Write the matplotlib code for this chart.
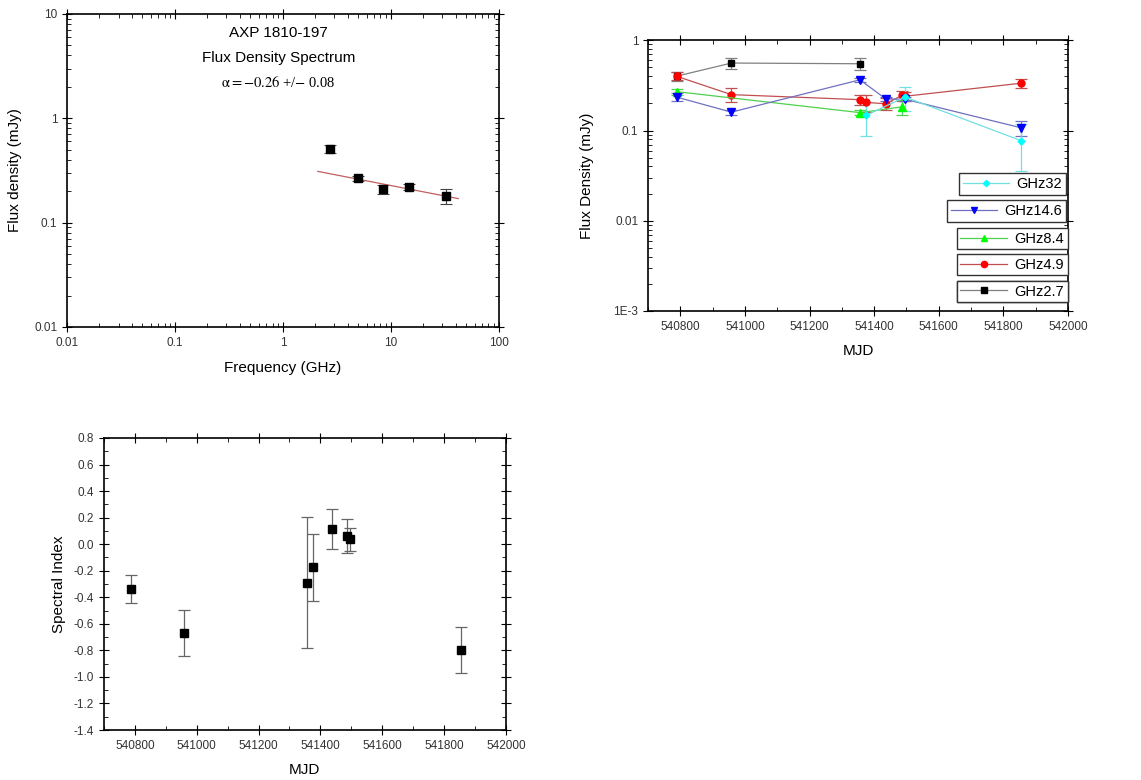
import numpy as np
import matplotlib
matplotlib.use("Agg")
import matplotlib.pyplot as plt
from matplotlib.ticker import MultipleLocator, LogLocator, FixedLocator, NullFormatter, FixedFormatter
from matplotlib.lines import Line2D

plt.rcParams['font.family'] = ['Liberation Sans', 'DejaVu Sans']

# --- панель 1: спектр ---
spec_freq = [2.7, 4.9, 8.4, 14.6, 32.0]
spec_flux = [0.51, 0.265, 0.21, 0.22, 0.18]
spec_err = [0.04, 0.016, 0.02, 0.013, 0.028]
fit_freq = [2.1, 42.0]
fit_flux = [0.31, 0.17]

# --- панель 2: плотность потока по MJD ---
mjd_27 = [540788, 540958, 541356]
flux_27 = [0.40, 0.56, 0.55]
err_27 = [0.045, 0.08, 0.08]

mjd_49 = [540788, 540958, 541356, 541376, 541436, 541486, 541496, 541856]
flux_49 = [0.40, 0.25, 0.22, 0.205, 0.198, 0.245, 0.24, 0.335]
err_49 = [0.04, 0.045, 0.03, 0.045, 0.03, 0.03, 0.03, 0.037]

mjd_84 = [540788, 541356, 541486]
flux_84 = [0.27, 0.158, 0.183]
err_84 = [0.02, 0.01, 0.033]

mjd_146 = [540788, 540958, 541356, 541436, 541496, 541856]
flux_146 = [0.235, 0.16, 0.365, 0.224, 0.222, 0.107]
err_146 = [0.024, 0.01, 0.022, 0.01, 0.012, 0.02]

mjd_32 = [541376, 541496, 541856]
flux_32 = [0.148, 0.235, 0.077]
err_32 = [0.06, 0.07, 0.041]

# --- панель 3: спектральный индекс ---
idx_mjd = [540788, 540958, 541356, 541376, 541436, 541486, 541496, 541856]
idx_val = [-0.34, -0.67, -0.29, -0.175, 0.115, 0.062, 0.038, -0.797]
idx_err = [0.105, 0.175, 0.495, 0.25, 0.148, 0.127, 0.087, 0.173]

fig = plt.figure(figsize=(11.41, 7.8), dpi=100)

tick_kw = dict(labelsize=8.5, labelcolor='#333333')


def style_axes(ax):
    ax.tick_params(which='both', top=True, right=True, direction='in', **tick_kw)
    ax.tick_params(which='major', length=5)
    ax.tick_params(which='minor', length=3)
    ax.tick_params(axis='x', which='major', bottom=True, direction='inout', length=7)
    ax.tick_params(axis='y', which='major', left=True, direction='inout', length=7)
    for s in ax.spines.values():
        s.set_linewidth(1.2)


# Панель 1
ax1 = fig.add_axes([0.0587, 0.5808, 0.3786, 0.4013])
ax1.set_xscale('log')
ax1.set_yscale('log')
ax1.set_xlim(0.01, 100)
ax1.set_ylim(0.01, 10)
ax1.errorbar(spec_freq, spec_flux, yerr=spec_err, fmt='s', color='black',
             ms=5.5, ecolor='#444444', elinewidth=0.8, capsize=4, capthick=0.8)
ax1.plot(fit_freq, fit_flux, color='#c06060', lw=0.9)
ax1.xaxis.set_major_formatter(FixedFormatter(['0.01', '0.1', '1', '10', '100']))
ax1.xaxis.set_major_locator(FixedLocator([0.01, 0.1, 1, 10, 100]))
ax1.yaxis.set_major_locator(FixedLocator([0.01, 0.1, 1, 10]))
ax1.yaxis.set_major_formatter(FixedFormatter(['0.01', '0.1', '1', '10']))
ax1.xaxis.set_minor_locator(LogLocator(subs=np.arange(2, 10)))
ax1.yaxis.set_minor_locator(LogLocator(subs=np.arange(2, 10)))
ax1.xaxis.set_minor_formatter(NullFormatter())
ax1.yaxis.set_minor_formatter(NullFormatter())
style_axes(ax1)
ax1.set_xlabel('Frequency (GHz)', fontsize=11, labelpad=9)
ax1.set_ylabel('Flux density (mJy)', fontsize=11, labelpad=9)
ax1.text(0.49, 0.94, 'AXP 1810-197', transform=ax1.transAxes, ha='center', va='center', fontsize=11)
ax1.text(0.49, 0.86, 'Flux Density Spectrum', transform=ax1.transAxes, ha='center', va='center', fontsize=11)
ax1.text(0.49, 0.78, r'$\mathrm{\alpha} = -0.26$ +/$-$ 0.08', transform=ax1.transAxes, ha='center',
         va='center', fontsize=10.5, family='Liberation Serif', math_fontfamily='stix')

# Панель 2
ax2 = fig.add_axes([0.568, 0.6013, 0.368, 0.347])
ax2.set_yscale('log')
ax2.set_xlim(540700, 542000)
ax2.set_ylim(0.001, 1)
series = [
    ('GHz32', mjd_32, flux_32, err_32, 'D', '#00ffff', '#70e0e0', 3.5),
    ('GHz14.6', mjd_146, flux_146, err_146, 'v', '#0000ff', '#7070c0', 5.5),
    ('GHz8.4', mjd_84, flux_84, err_84, '^', '#00ff00', '#50d050', 5.5),
    ('GHz4.9', mjd_49, flux_49, err_49, 'o', '#ff0000', '#c05050', 5),
    ('GHz2.7', mjd_27, flux_27, err_27, 's', '#000000', '#808080', 5),
]
for name, x, y, e, m, mc, lc, ms in reversed(series):
    ax2.errorbar(x, y, yerr=e, color=lc, marker=m, mfc=mc, mec=mc, ms=ms,
                 lw=0.9, elinewidth=0.9, capsize=4, capthick=0.9)
ax2.xaxis.set_major_locator(MultipleLocator(200))
ax2.xaxis.set_minor_locator(MultipleLocator(100))
ax2.yaxis.set_major_locator(FixedLocator([0.001, 0.01, 0.1, 1]))
ax2.yaxis.set_major_formatter(FixedFormatter(['1E-3', '0.01', '0.1', '1']))
ax2.yaxis.set_minor_locator(LogLocator(subs=np.arange(2, 10)))
ax2.yaxis.set_minor_formatter(NullFormatter())
style_axes(ax2)
ax2.set_xlabel('MJD', fontsize=11, labelpad=8)
ax2.set_ylabel('Flux Density (mJy)', fontsize=11, labelpad=14)

# отдельные рамки легенды, как в оригинале
leg_tops = [0.509, 0.409, 0.306, 0.210, 0.111]
leg_right = [0.995, 0.995, 0.999, 0.999, 0.999]
for (name, x, y, e, m, mc, lc, ms), top, right in zip(series, leg_tops, leg_right):
    h = Line2D([], [], color=lc, marker=m, mfc=mc, mec=mc, ms=ms * 0.9, lw=0.9)
    lg = ax2.legend([h], [name], loc='upper right', bbox_to_anchor=(right, top),
                    bbox_transform=ax2.transAxes, fontsize=10.5, frameon=True,
                    fancybox=False, edgecolor='#333333', framealpha=1,
                    borderpad=0.25, handlelength=3.2, borderaxespad=0, handletextpad=0.5)
    lg.get_frame().set_linewidth(1.0)
    ax2.add_artist(lg)

# Панель 3
ax3 = fig.add_axes([0.0911, 0.0641, 0.3523, 0.3744])
ax3.set_xlim(540700, 542000)
ax3.set_ylim(-1.4, 0.8)
ax3.errorbar(idx_mjd, idx_val, yerr=idx_err, fmt='s', color='black', ms=5.5,
             ecolor='#666666', elinewidth=0.9, capsize=4, capthick=0.9)
ax3.xaxis.set_major_locator(MultipleLocator(200))
ax3.xaxis.set_minor_locator(MultipleLocator(100))
ax3.yaxis.set_major_locator(MultipleLocator(0.2))
ax3.yaxis.set_minor_locator(MultipleLocator(0.1))
ax3.yaxis.set_major_formatter(plt.FuncFormatter(lambda v, p: '%.1f' % v))
style_axes(ax3)
ax3.set_xlabel('MJD', fontsize=11, labelpad=8)
ax3.set_ylabel('Spectral Index', fontsize=11, labelpad=6)

fig.savefig('out.png', dpi=100)
